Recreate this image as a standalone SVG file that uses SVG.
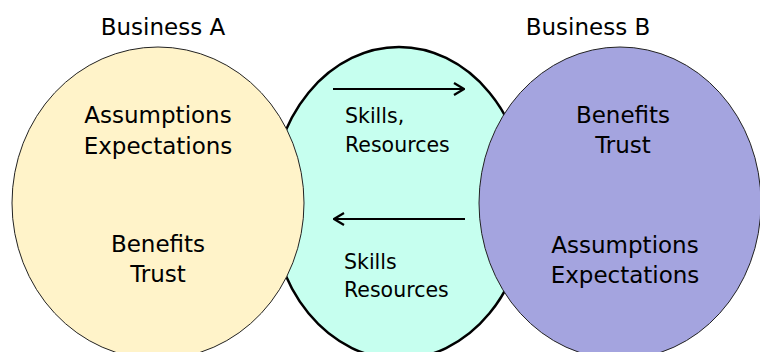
<svg xmlns="http://www.w3.org/2000/svg" width="760" height="352" viewBox="0 0 760 352">
<style>
  text { font-family: "DejaVu Sans", Verdana, sans-serif; fill: #000; }
  .big { font-size: 23px; text-anchor: middle; }
  .mid { font-size: 20.5px; }
  .conn { stroke: #000; stroke-width: 2.2; fill: none; }
</style>
<defs>
  <marker id="arr" viewBox="0 0 12 14" refX="11" refY="7" markerWidth="12" markerHeight="14" markerUnits="userSpaceOnUse" orient="auto">
    <path d="M1,1 L11,7 L1,13" fill="none" stroke="#000" stroke-width="2.2"/>
  </marker>
</defs>
<rect width="760" height="352" fill="#fff"/>
<g id="exchange">
  <ellipse cx="399" cy="203" rx="128" ry="156" fill="#C6FFEF" stroke="#000" stroke-width="2.5"/>
  <text class="mid" x="345" y="123">Skills,</text>
  <text class="mid" x="345" y="152">Resources</text>
  <text class="mid" x="344" y="269">Skills</text>
  <text class="mid" x="344" y="297">Resources</text>
</g>
<g id="businessA">
  <ellipse cx="158" cy="203" rx="146" ry="156" fill="#FFF3C9" stroke="#222" stroke-width="1"/>
  <text class="big" x="163" y="35">Business A</text>
  <text class="big" x="158" y="123">Assumptions</text>
  <text class="big" x="158" y="154">Expectations</text>
  <text class="big" x="158" y="252">Benefits</text>
  <text class="big" x="158" y="282">Trust</text>
</g>
<g id="businessB">
  <ellipse cx="620" cy="203" rx="141" ry="156" fill="#A4A4DF" stroke="#222" stroke-width="1"/>
  <text class="big" x="588" y="35">Business B</text>
  <text class="big" x="623" y="123">Benefits</text>
  <text class="big" x="623" y="153">Trust</text>
  <text class="big" x="625" y="253">Assumptions</text>
  <text class="big" x="625" y="283">Expectations</text>
</g>
<g id="connectors">
  <line class="conn" x1="333" y1="89" x2="464" y2="89" marker-end="url(#arr)"/>
  <line class="conn" x1="465" y1="219" x2="334" y2="219" marker-end="url(#arr)"/>
</g>
</svg>
